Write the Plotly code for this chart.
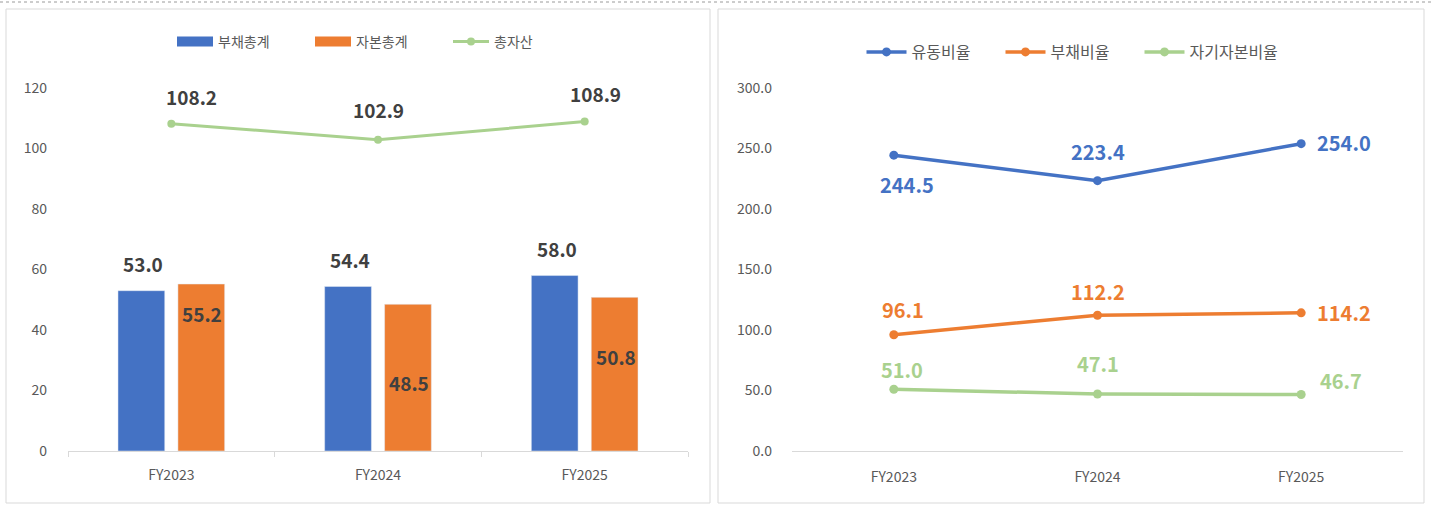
import plotly.graph_objects as go

# ---------------- data ----------------
categories = ["FY2023", "FY2024", "FY2025"]

# left chart
debt_total = [53.0, 54.4, 58.0]       # 부채총계
equity_total = [55.2, 48.5, 50.8]     # 자본총계
asset_total = [108.2, 102.9, 108.9]   # 총자산
left_yticks = [0, 20, 40, 60, 80, 100, 120]

# right chart (%)
current_ratio = [244.5, 223.4, 254.0]  # 유동비율
debt_ratio = [96.1, 112.2, 114.2]      # 부채비율
equity_ratio = [51.0, 47.1, 46.7]      # 자기자본비율
right_yticks = [0, 50, 100, 150, 200, 250, 300]

# ---------------- styles ----------------
W, H = 1431, 506
BLUE = "#4472C4"
ORANGE = "#ED7D31"
GREEN = "#A9D18E"
GREY_TXT = "#595959"
LABEL_DARK = "#404040"
AXIS_GREY = "#D9D9D9"
FONT = "Noto Sans CJK KR"


def px(x):
    return x / W


def py(y):
    return 1 - y / H


fig = go.Figure()

# left chart traces (bars hidden from legend; legend uses wide swatches)
fig.add_trace(go.Bar(x=categories, y=debt_total, name="부채총계", marker_color=BLUE,
                     xaxis="x", yaxis="y", showlegend=False))
fig.add_trace(go.Bar(x=categories, y=equity_total, name="자본총계", marker_color=ORANGE,
                     xaxis="x", yaxis="y", showlegend=False))
for name, col in [("부채총계", BLUE), ("자본총계", ORANGE)]:
    fig.add_trace(go.Scatter(x=[None], y=[None], name=name, mode="lines",
                             line=dict(color=col, width=13), xaxis="x", yaxis="y",
                             legend="legend"))
fig.add_trace(go.Scatter(x=categories, y=asset_total, name="총자산", mode="lines+markers",
                         line=dict(color=GREEN, width=3), marker=dict(size=8, color=GREEN),
                         xaxis="x", yaxis="y", legend="legend"))

# right chart traces
for vals, name, col in [(current_ratio, "유동비율", BLUE),
                        (debt_ratio, "부채비율", ORANGE),
                        (equity_ratio, "자기자본비율", GREEN)]:
    fig.add_trace(go.Scatter(x=categories, y=vals, name=name, mode="lines+markers",
                             line=dict(color=col, width=3.5), marker=dict(size=9, color=col),
                             xaxis="x2", yaxis="y2", legend="legend2"))

# ---------------- data labels ----------------
annotations = []
lab_font = dict(family=FONT, size=19, color=LABEL_DARK)

# label offsets (pixels) — style only
debt_off = [(-28, 27), (-28, 27), (-28, 27)]
equity_off = [(31, -29), (31, -78), (31, -59)]
asset_off = [(20, 27), (0, 30), (11, 28)]
for vals, offs in [(debt_total, debt_off), (equity_total, equity_off), (asset_total, asset_off)]:
    for c, v, (dx, dy) in zip(categories, vals, offs):
        annotations.append(dict(x=c, y=v, xref="x", yref="y", text=f"<b>{v:.1f}</b>",
                                showarrow=False, xshift=dx, yshift=dy, font=lab_font))

cur_off = [(13, -29), (0, 29), (43, 1)]
debt_r_off = [(9, 25), (0, 24), (43, 0)]
eq_r_off = [(8, 20), (0, 31), (40, 14)]
for vals, offs, col in [(current_ratio, cur_off, BLUE), (debt_ratio, debt_r_off, ORANGE),
                        (equity_ratio, eq_r_off, GREEN)]:
    for c, v, (dx, dy) in zip(categories, vals, offs):
        annotations.append(dict(x=c, y=v, xref="x2", yref="y2", text=f"<b>{v:.1f}</b>",
                                showarrow=False, xshift=dx, yshift=dy,
                                font=dict(family=FONT, size=20, color=col)))

# ---------------- frames ----------------
shapes = [
    dict(type="line", xref="paper", yref="paper", x0=0, x1=1, y0=py(2), y1=py(2),
         line=dict(color="#9A9A9A", width=1, dash="dot")),
    dict(type="rect", xref="paper", yref="paper", x0=px(6), x1=px(710), y0=py(503), y1=py(9),
         line=dict(color=AXIS_GREY, width=1)),
    dict(type="rect", xref="paper", yref="paper", x0=px(718), x1=px(1424), y0=py(503), y1=py(9),
         line=dict(color=AXIS_GREY, width=1)),
]

tick_font = dict(family=FONT, size=14, color=GREY_TXT)

fig.update_layout(
    width=W, height=H,
    margin=dict(l=0, r=0, t=0, b=0, pad=0, autoexpand=False),
    paper_bgcolor="white", plot_bgcolor="white",
    font=dict(family=FONT),
    barmode="group", bargap=0.42, bargroupgap=0.22,
    xaxis=dict(domain=[px(68), px(688)], anchor="y", type="category", range=[-0.5, 2.5],
               showline=True, linecolor=AXIS_GREY, linewidth=1, automargin=False,
               ticks="outside", tickson="boundaries", ticklen=5, tickcolor=AXIS_GREY,
               ticklabelstandoff=11, tickfont=tick_font, showgrid=False, zeroline=False),
    yaxis=dict(domain=[py(451), py(88)], anchor="x", range=[0, 120], tickvals=left_yticks,
               showgrid=False, zeroline=False, showline=False, tickfont=tick_font,
               ticklabelstandoff=20, automargin=False),
    xaxis2=dict(domain=[px(792), px(1403)], anchor="y2", type="category", range=[-0.5, 2.5],
                showline=True, linecolor=AXIS_GREY, linewidth=1, ticks="", automargin=False,
                ticklabelstandoff=13, tickfont=tick_font, showgrid=False, zeroline=False),
    yaxis2=dict(domain=[py(451), py(88)], anchor="x2", range=[0, 300], tickvals=right_yticks,
                tickformat=".1f", showgrid=False, zeroline=False, showline=False,
                tickfont=tick_font, ticklabelstandoff=19, automargin=False),
    legend=dict(orientation="h", x=px(379), xanchor="center", y=py(42), yanchor="middle",
                font=dict(family=FONT, size=14, color=GREY_TXT), bgcolor="rgba(0,0,0,0)",
                itemwidth=36, entrywidth=87),
    legend2=dict(orientation="h", x=px(1070), xanchor="center", y=py(52), yanchor="middle",
                 font=dict(family=FONT, size=16, color=GREY_TXT), bgcolor="rgba(0,0,0,0)",
                 itemwidth=40, entrywidth=84),
    annotations=annotations,
    shapes=shapes,
)

POST = (
    "var gd=document.getElementById('{plot_id}');"
    "gd.style.position='fixed';gd.style.left='0px';gd.style.top='0px';"
    "document.documentElement.style.cssText='margin:0;padding:0;overflow:hidden;height:506px;width:1431px';"
    "document.body.style.cssText='margin:0;padding:0;overflow:hidden;height:506px;width:1431px';"
)

fig.write_html("out.html", config={"displayModeBar": False}, post_script=POST)
